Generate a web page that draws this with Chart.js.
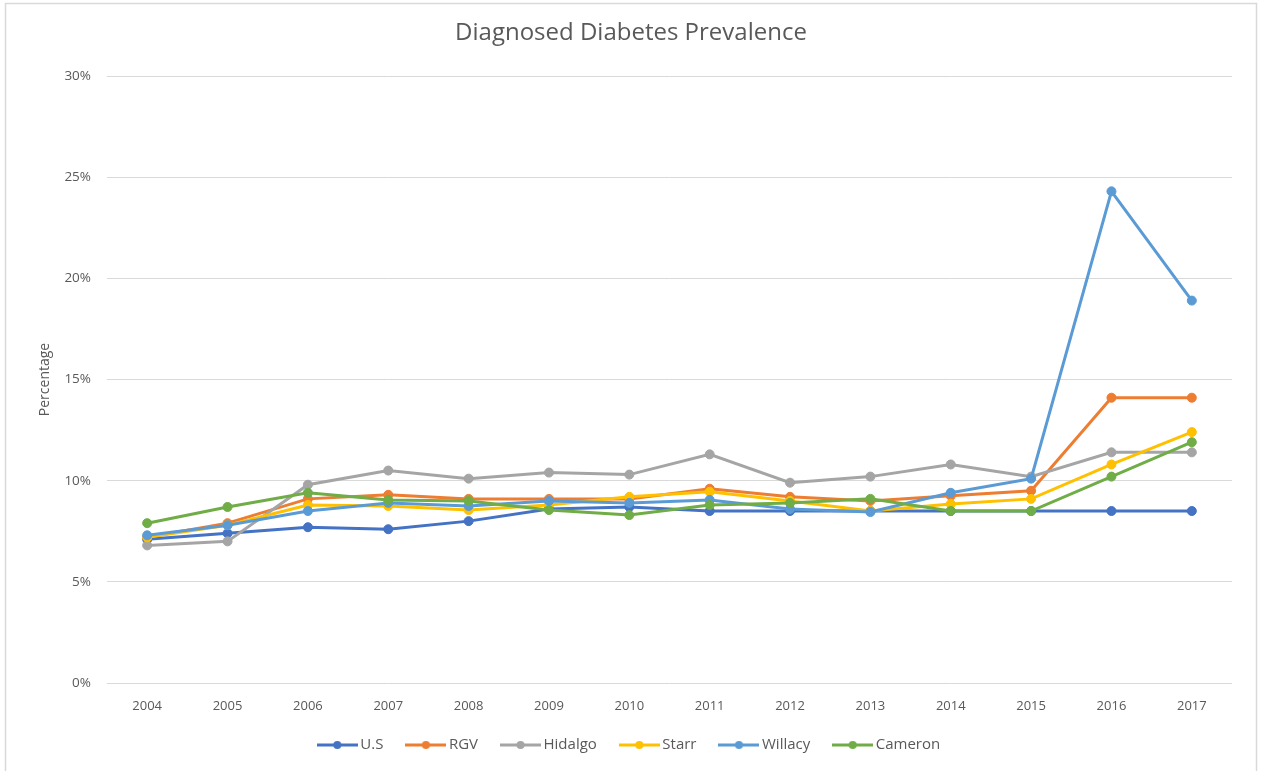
<!DOCTYPE html>
<html>
<head>
<meta charset="utf-8">
<title>Diagnosed Diabetes Prevalence</title>
<script src="https://cdn.jsdelivr.net/npm/chart.js@4/dist/chart.umd.min.js"></script>
<style>
  html, body { margin: 0; padding: 0; background: #ffffff; }
  #wrap { position: relative; width: 1262px; height: 771px; }
</style>
</head>
<body>
<div id="wrap"><canvas id="chart" width="1262" height="771"></canvas></div>
<script>
// Years on the category axis
const years = ['2004', '2005', '2006', '2007', '2008', '2009', '2010', '2011', '2012', '2013', '2014', '2015', '2016', '2017'];

// Diagnosed diabetes prevalence, percent
const usValues      = [7.1, 7.4, 7.7, 7.6, 8.0, 8.6, 8.7, 8.5, 8.5, 8.5, 8.5, 8.5, 8.5, 8.5];
const rgvValues     = [7.2, 7.9, 9.1, 9.3, 9.1, 9.1, 9.1, 9.6, 9.2, 9.0, 9.25, 9.5, 14.1, 14.1];
const hidalgoValues = [6.8, 7.0, 9.8, 10.5, 10.1, 10.4, 10.3, 11.3, 9.9, 10.2, 10.8, 10.2, 11.4, 11.4];
const starrValues   = [7.2, 7.8, 8.8, 8.75, 8.55, 8.8, 9.2, 9.45, 9.0, 8.5, 8.85, 9.1, 10.8, 12.4];
const willacyValues = [7.3, 7.8, 8.5, 8.9, 8.75, 9.0, 8.9, 9.05, 8.6, 8.45, 9.4, 10.1, 24.3, 18.9];
const cameronValues = [7.9, 8.7, 9.4, 9.05, 9.0, 8.55, 8.3, 8.8, 8.9, 9.1, 8.5, 8.5, 10.2, 11.9];

// Series names and colours
const seriesNames  = ['U.S', 'RGV', 'Hidalgo', 'Starr', 'Willacy', 'Cameron'];
const seriesColors = ['#4472C4', '#ED7D31', '#A5A5A5', '#FFC000', '#5B9BD5', '#70AD47'];
const seriesValues = [usValues, rgvValues, hidalgoValues, starrValues, willacyValues, cameronValues];

// Y axis ticks (percent)
const yTicks = [0, 5, 10, 15, 20, 25, 30];

const textColor = '#595959';
const gridColor = '#D9D9D9';
const fontFamily = '"Open Sans", "Liberation Sans", sans-serif';

// Legend marker: a short line with a dot in the middle
function makeMarker(color) {
  const c = document.createElement('canvas');
  c.width = 41; c.height = 12;
  const g = c.getContext('2d');
  g.strokeStyle = color;
  g.lineWidth = 3;
  g.beginPath(); g.moveTo(0, 6); g.lineTo(41, 6); g.stroke();
  g.fillStyle = color;
  g.beginPath(); g.arc(20.5, 6, 4, 0, Math.PI * 2); g.fill();
  return c;
}
const markers = seriesColors.map(makeMarker);

const datasets = seriesNames.map((name, i) => ({
  label: name,
  data: seriesValues[i],
  borderColor: seriesColors[i],
  backgroundColor: seriesColors[i],
  pointBackgroundColor: seriesColors[i],
  pointBorderColor: seriesColors[i],
  borderWidth: 3,
  pointRadius: 4.5,
  pointBorderWidth: 1,
  tension: 0,
  fill: false,
  // later series are painted on top of earlier ones
  order: seriesNames.length - i
}));

// White page with a thin frame round the chart
const framePlugin = {
  id: 'frame',
  beforeDraw(chart) {
    const ctx = chart.ctx;
    ctx.save();
    ctx.fillStyle = '#ffffff';
    ctx.fillRect(0, 0, chart.width, chart.height);
    ctx.strokeStyle = gridColor;
    ctx.lineWidth = 1.5;
    ctx.strokeRect(5.5, 3.5, chart.width - 11, chart.height + 20);
    ctx.restore();
  }
};

// Centre the title and the legend row on the whole frame rather than the plot
const frameCentrePlugin = {
  id: 'frameCentre',
  afterLayout(chart) {
    [chart.legend, chart.titleBlock].forEach(box => {
      if (box) {
        box.left = 5;
        box.right = chart.width - 5;
        box.width = box.right - box.left;
      }
    });
  }
};

new Chart(document.getElementById('chart'), {
  type: 'line',
  data: { labels: years, datasets },
  plugins: [framePlugin, frameCentrePlugin],
  options: {
    responsive: false,
    animation: false,
    devicePixelRatio: 1,
    layout: { padding: { top: 4, left: 5, right: 30, bottom: 8.5 } },
    plugins: {
      title: {
        display: true,
        text: 'Diagnosed Diabetes Prevalence',
        color: textColor,
        font: { family: fontFamily, size: 24, weight: 'normal' },
        padding: { top: 14.6, bottom: 28.6 }
      },
      legend: {
        display: true,
        position: 'bottom',
        labels: {
          usePointStyle: true,
          pointStyleWidth: 31,
          padding: 27,
          color: textColor,
          font: { family: fontFamily, size: 15 },
          generateLabels(chart) {
            return chart.data.datasets.map((ds, i) => ({
              text: ds.label,
              pointStyle: markers[i],
              fillStyle: ds.borderColor,
              strokeStyle: ds.borderColor,
              lineWidth: 0,
              hidden: !chart.isDatasetVisible(i),
              datasetIndex: i,
              fontColor: textColor
            }));
          }
        }
      },
      tooltip: { enabled: false }
    },
    scales: {
      x: {
        type: 'category',
        offset: true,
        grid: { display: false, drawTicks: false },
        border: { display: false },
        ticks: {
          color: textColor,
          font: { family: fontFamily, size: 13 },
          padding: 15,
          maxRotation: 0,
          autoSkip: false
        },
        afterFit(scale) { scale.height = 27.5; }
      },
      y: {
        min: yTicks[0],
        max: yTicks[yTicks.length - 1],
        afterBuildTicks(scale) { scale.ticks = yTicks.map(v => ({ value: v })); },
        grid: { color: gridColor, lineWidth: 1, drawTicks: false },
        border: { display: false },
        ticks: {
          color: textColor,
          font: { family: fontFamily, size: 13.5 },
          padding: 16,
          callback: v => v + '%'
        },
        title: {
          display: true,
          text: 'Percentage',
          color: textColor,
          font: { family: fontFamily, size: 14 },
          padding: { top: 31.6, bottom: 0 }
        },
        afterFit(scale) { scale.width = 102; }
      }
    }
  }
});
</script>
</body>
</html>
